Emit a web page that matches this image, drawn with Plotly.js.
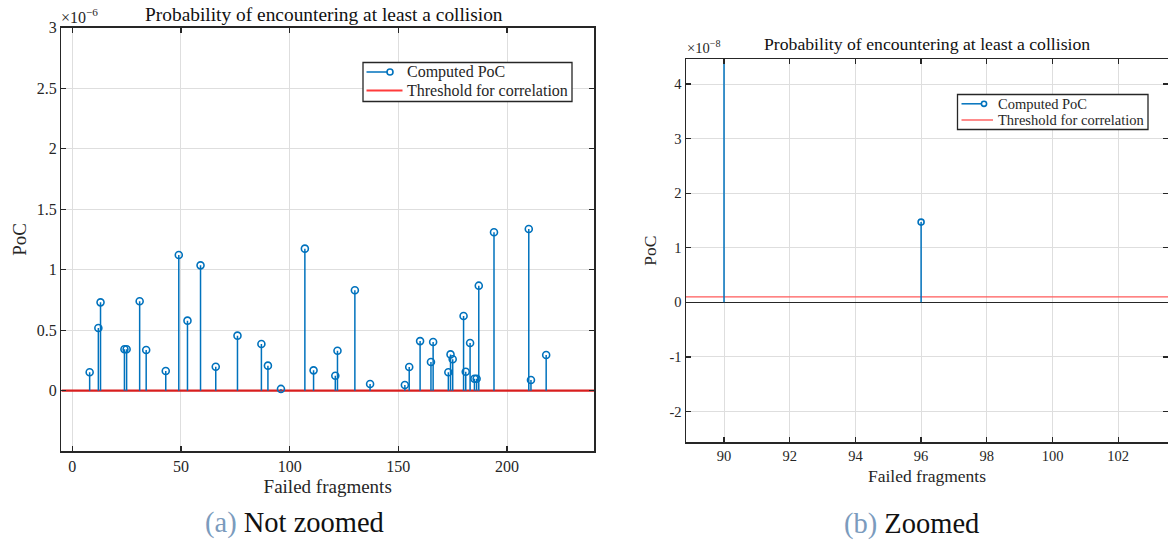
<!DOCTYPE html>
<html>
<head>
<meta charset="utf-8">
<script src="https://cdn.plot.ly/plotly-3.0.1.min.js"></script>
<style>
  html, body { margin: 0; padding: 0; background: #ffffff; overflow: hidden; }
  #chart { width: 1168px; height: 543px; }
</style>
</head>
<body>
<div id="chart"></div>
<script>
// Fragment indices whose failure was evaluated
const fragments = [8, 12, 13, 24, 25, 31, 34, 43, 49, 53, 59, 66, 76, 87, 90, 96,
  107, 111, 121, 122, 130, 137, 153, 155, 160, 165, 166, 173, 174, 175,
  180, 181, 183, 185, 186, 187, 194, 210, 211, 218];

// Probability of collision for each fragment
const poc = [0.152e-6, 0.518e-6, 0.730e-6, 0.342e-6, 0.342e-6, 0.739e-6, 0.336e-6, 0.163e-6,
  1.121e-6, 0.579e-6, 1.036e-6, 0.198e-6, 0.455e-6, 0.386e-6, 0.207e-6, 1.47e-8,
  1.174e-6, 0.168e-6, 0.124e-6, 0.330e-6, 0.830e-6, 0.055e-6, 0.047e-6, 0.196e-6,
  0.410e-6, 0.237e-6, 0.402e-6, 0.152e-6, 0.300e-6, 0.260e-6, 0.617e-6, 0.157e-6,
  0.394e-6, 0.099e-6, 0.099e-6, 0.868e-6, 1.309e-6, 1.336e-6, 0.088e-6, 0.295e-6];

// Correlation threshold
const threshold = 1e-9;

// Legend labels
const seriesNames = ['Computed PoC', 'Threshold for correlation'];

// Axis ranges (in displayed units) for the full view and the zoomed view
const fullXRange = [-5, 240];
const fullYRange = [-0.5, 3];
const zoomXRange = [88.843, 103.516];
const zoomYRange = [-2.565, 4.458];

const fullXTicks = [0, 50, 100, 150, 200];
const fullYTicks = [0, 0.5, 1, 1.5, 2, 2.5, 3];
const fullYTickText = ['0', '0.5', '1', '1.5', '2', '2.5', '3'];
const zoomYTicks = [-2, -1, 0, 1, 2, 3, 4];
const zoomYTickText = ['-2', '-1', '0', '1', '2', '3', '4'];

const W = 1168, H = 543;
const FONT = "'Liberation Serif', 'DejaVu Serif', serif";
const INK = '#262626';
const BLUE = '#0072BD';
const RED_FULL = '#d81e1e';
const RED_ZOOM = '#ff5a5a';

function px(x) { return x / W; }
function py(y) { return 1 - y / H; }

function stemTraces(scale, xa, ya, redColor, redWidth, markerSize) {
  const sx = [], sy = [];
  fragments.forEach((f, i) => { sx.push(f, f, null); sy.push(0, poc[i] / scale, null); });
  const xr = xa === 'x' ? fullXRange : zoomXRange;
  return [
    { x: xr, y: [threshold / scale, threshold / scale], xaxis: xa, yaxis: ya, mode: 'lines',
      name: seriesNames[1], line: { color: redColor, width: redWidth }, hoverinfo: 'skip' },
    { x: sx, y: sy, xaxis: xa, yaxis: ya, mode: 'lines', name: seriesNames[0],
      line: { color: BLUE, width: 1.5 }, hoverinfo: 'skip' },
    { x: fragments, y: poc.map(v => v / scale), xaxis: xa, yaxis: ya, mode: 'markers',
      name: seriesNames[0],
      marker: { symbol: 'circle-open', size: markerSize, color: BLUE, line: { width: 1.6, color: BLUE } } }
  ];
}

const data = [
  ...stemTraces(1e-6, 'x', 'y', RED_FULL, 2.2, 7),
  ...stemTraces(1e-8, 'x2', 'y2', RED_ZOOM, 1.4, 6)
];

function axisBase(size) {
  return {
    showline: true, linecolor: INK, linewidth: 1.5, mirror: 'ticks',
    ticks: 'inside', ticklen: 5, tickwidth: 1.3, tickcolor: INK,
    showgrid: true, gridcolor: '#dedede', gridwidth: 1,
    zeroline: false,
    tickfont: { family: FONT, size: size, color: INK },
    fixedrange: true
  };
}

// Boxed legend drawn in pixel coordinates
function legendBox(box, rows, fontSize, lineStart, blueEnd, redEnd, textX, red, redWidth, r) {
  const shapes = [
    { type: 'rect', xref: 'paper', yref: 'paper', x0: px(box[0]), x1: px(box[1]), y0: py(box[2]), y1: py(box[3]),
      fillcolor: '#ffffff', line: { color: INK, width: 1.3 }, layer: 'above' },
    { type: 'line', xref: 'paper', yref: 'paper', x0: px(lineStart), x1: px(blueEnd), y0: py(rows[0]), y1: py(rows[0]),
      line: { color: BLUE, width: 1.5 }, layer: 'above' },
    { type: 'circle', xref: 'paper', yref: 'paper', x0: px(blueEnd - r), x1: px(blueEnd + r),
      y0: py(rows[0] + r), y1: py(rows[0] - r), fillcolor: '#ffffff', line: { color: BLUE, width: 1.6 }, layer: 'above' },
    { type: 'line', xref: 'paper', yref: 'paper', x0: px(lineStart), x1: px(redEnd), y0: py(rows[1]), y1: py(rows[1]),
      line: { color: red, width: redWidth }, layer: 'above' }
  ];
  const annotations = seriesNames.map((name, i) => ({
    text: name, xref: 'paper', yref: 'paper', x: px(textX), y: py(rows[i]),
    xanchor: 'left', yanchor: 'middle', showarrow: false,
    font: { family: FONT, size: fontSize, color: INK }
  }));
  return { shapes, annotations };
}

const legFull = legendBox([363, 572, 62.5, 101.5], [72, 90.5], 16, 366.5, 390, 402.5, 405, '#ff3b3b', 2.2, 3);
const legZoom = legendBox([957.5, 1148, 94.5, 129.5], [103.8, 120], 14.5, 961.5, 984, 993, 996, RED_ZOOM, 1.4, 2.6);

const layout = {
  width: W, height: H,
  margin: { l: 0, r: 0, t: 0, b: 0 },
  paper_bgcolor: '#ffffff', plot_bgcolor: '#ffffff',
  font: { family: FONT, color: INK },
  showlegend: false,
  xaxis: Object.assign(axisBase(16), {
    domain: [px(61.4), px(594)], range: fullXRange, anchor: 'y',
    tickvals: fullXTicks,
    title: { text: 'Failed fragments', font: { family: FONT, size: 19, color: INK }, standoff: 6 }
  }),
  yaxis: Object.assign(axisBase(16), {
    domain: [py(451.2), py(27.7)], range: fullYRange, anchor: 'x',
    tickvals: fullYTicks, ticktext: fullYTickText,
    title: { text: 'PoC', font: { family: FONT, size: 19, color: INK }, standoff: 5 }
  }),
  xaxis2: Object.assign(axisBase(14.5), {
    domain: [px(686), 1], range: zoomXRange, anchor: 'y2',
    dtick: 2, tick0: 0,
    title: { text: 'Failed fragments', font: { family: FONT, size: 17.5, color: INK }, standoff: 6 }
  }),
  yaxis2: Object.assign(axisBase(14.5), {
    domain: [py(442.3), py(59)], range: zoomYRange, anchor: 'x2',
    tickvals: zoomYTicks, ticktext: zoomYTickText,
    zeroline: true, zerolinecolor: INK, zerolinewidth: 1.6,
    title: { text: 'PoC', font: { family: FONT, size: 17.5, color: INK }, standoff: 8 }
  }),
  shapes: [...legFull.shapes, ...legZoom.shapes],
  annotations: [
    { text: 'Probability of encountering at least a collision', xref: 'paper', yref: 'paper',
      x: px(324), y: py(14), xanchor: 'center', yanchor: 'middle', showarrow: false,
      font: { family: FONT, size: 19.4, color: '#111111' } },
    { text: 'Probability of encountering at least a collision', xref: 'paper', yref: 'paper',
      x: px(927), y: py(44.5), xanchor: 'center', yanchor: 'middle', showarrow: false,
      font: { family: FONT, size: 17.7, color: '#111111' } },
    { text: '×10<sup>−6</sup>', xref: 'paper', yref: 'paper',
      x: px(59), y: py(16), xanchor: 'left', yanchor: 'middle', showarrow: false,
      font: { family: FONT, size: 16, color: INK } },
    { text: '×10<sup>−8</sup>', xref: 'paper', yref: 'paper',
      x: px(685), y: py(47), xanchor: 'left', yanchor: 'middle', showarrow: false,
      font: { family: FONT, size: 14.5, color: INK } },
    { text: '<span style="color:#7b9bbd">(a)</span> Not zoomed', xref: 'paper', yref: 'paper',
      x: px(294.5), y: py(523), xanchor: 'center', yanchor: 'middle', showarrow: false,
      font: { family: FONT, size: 28.5, color: '#111111' } },
    { text: '<span style="color:#7b9bbd">(b)</span> Zoomed', xref: 'paper', yref: 'paper',
      x: px(911), y: py(524), xanchor: 'center', yanchor: 'middle', showarrow: false,
      font: { family: FONT, size: 28.5, color: '#111111' } },
    ...legFull.annotations, ...legZoom.annotations
  ]
};

Plotly.newPlot('chart', data, layout, { staticPlot: true, displayModeBar: false });
</script>
</body>
</html>
